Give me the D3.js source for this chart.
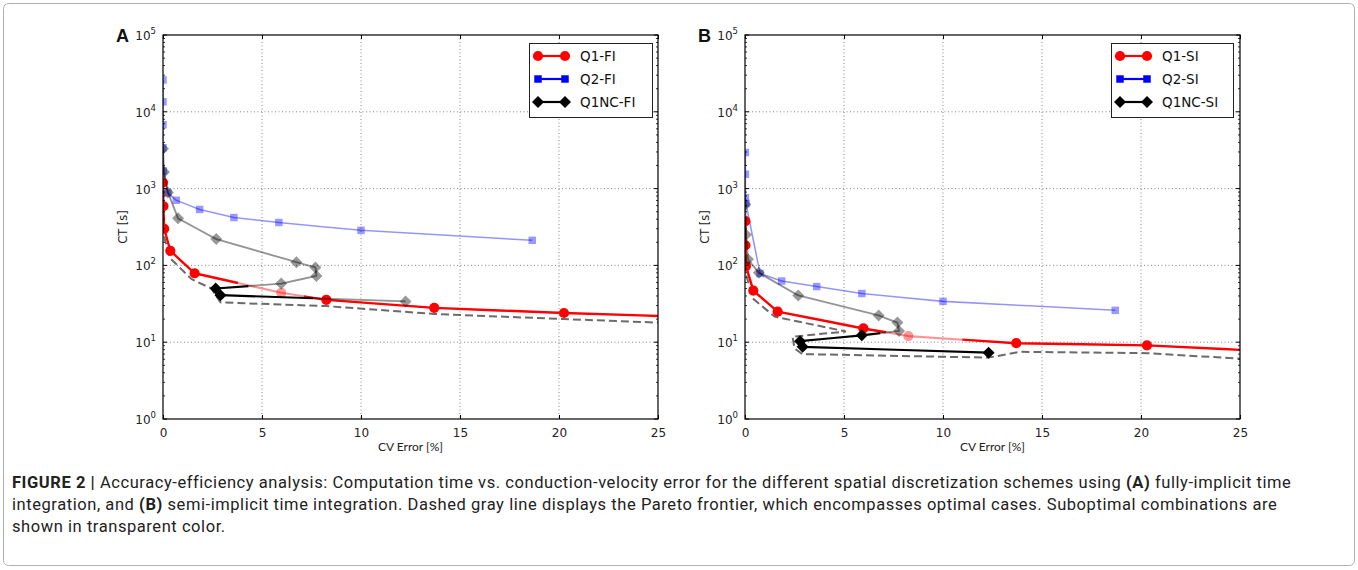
<!DOCTYPE html>
<html><head><meta charset="utf-8">
<script src="https://cdn.jsdelivr.net/npm/d3@7"></script>
<style>body{margin:0;background:#fff} svg{display:block}</style>
</head><body>
<svg id="c" width="1358" height="570"></svg>
<script>
// ---------------- data ----------------
const xTickValues = [0, 5, 10, 15, 20, 25];
const yTickExponents = [0, 1, 2, 3, 4, 5];
const panelLabels = ["A", "B"];
const legendA = ["Q1-FI", "Q2-FI", "Q1NC-FI"];
const legendB = ["Q1-SI", "Q2-SI", "Q1NC-SI"];
const xAxisTitle = "CV Error [%]";
const yAxisTitle = "CT [s]";

// Panel A (fully implicit)  - opt: 1 = optimal (solid), 0 = suboptimal (transparent)
const aQ1X   = [0.0, 0.02, 0.06, 0.37, 1.6, 5.97, 8.25, 13.7, 20.25, 28];
const aQ1Y   = [1200, 590, 300, 155, 79, 44, 35.6, 28, 24, 20.8];
const aQ1Opt = [1, 1, 1, 1, 1, 0, 1, 1, 1, 1];
const aQ2X   = [0.0, 0.0, 0.0, 0.0, 0.02, 0.25, 0.67, 1.85, 3.58, 5.85, 10.0, 18.65];
const aQ2Y   = [26000, 13500, 6800, 3400, 1700, 880, 705, 535, 420, 362, 286, 212];
const aQ2Opt = [0, 0, 0, 0, 0, 0, 0, 0, 0, 0, 0, 0];
const aNCX   = [0.0, 0.05, 0.25, 0.76, 2.69, 6.74, 7.7, 7.75, 5.97, 2.66, 2.9, 12.25];
const aNCY   = [3300, 1650, 890, 410, 220, 110, 94, 73, 58, 50, 41, 34];
const aNCOpt = [0, 0, 0, 0, 0, 0, 0, 0, 0, 1, 1, 0];
const aParetoX = [0.0, 0.0, 0.03, 0.35, 1.45, 2.45, 2.9, 8.25, 13.7, 20.25, 25];
const aParetoY = [1000, 490, 250, 125, 66, 50, 33, 29.5, 23.3, 20, 18];

// Panel B (semi implicit)
const bQ1X   = [0.02, 0.02, 0.05, 0.42, 1.65, 5.98, 8.25, 13.7, 20.3, 28];
const bQ1Y   = [377, 183, 98, 47, 25, 15.1, 12, 9.7, 9.1, 7.3];
const bQ1Opt = [1, 1, 1, 1, 1, 1, 0, 1, 1, 1];
const bQ2X   = [0.02, 0.02, 0.02, 0.05, 0.76, 1.85, 3.62, 5.9, 10.0, 18.7];
const bQ2Y   = [2950, 1540, 760, 640, 78.5, 62.6, 53, 43, 34, 26];
const bQ2Opt = [0, 0, 0, 0, 0, 0, 0, 0, 0, 0];
const bNCX   = [0.02, 0.05, 0.15, 0.7, 2.69, 6.75, 7.7, 7.78, 5.9, 2.78, 2.91, 12.3];
const bNCY   = [620, 250, 120, 80, 40.6, 22.3, 18, 14, 12.3, 10.3, 8.7, 7.3];
const bNCOpt = [0, 0, 0, 0, 0, 0, 0, 0, 1, 1, 1, 1];
const bParetoX = [0.0, 0.0, 0.03, 0.4, 1.5, 5.1, 2.4, 2.5, 2.9, 12.3, 13.9, 20.3, 25];
const bParetoY = [310, 150, 80, 37, 21.5, 13.8, 11.8, 8.3, 7.0, 6.3, 7.5, 7.2, 6.1];

const captionLines = [
  [["FIGURE 2 |", true], [" Accuracy-efficiency analysis: Computation time vs. conduction-velocity error for the different spatial discretization schemes using ", false], ["(A)", true], [" fully-implicit time", false]],
  [["integration, and ", false], ["(B)", true], [" semi-implicit time integration. Dashed gray line displays the Pareto frontier, which encompasses optimal cases. Suboptimal combinations are", false]],
  [["shown in transparent color.", false]]
];

// ---------------- drawing ----------------
const svg = d3.select("#c");
const FONT = "'DejaVu Sans', sans-serif";

svg.append("rect").attr("x", 3.5).attr("y", 3.5).attr("width", 1351).attr("height", 562)
  .attr("rx", 5).attr("fill", "none").attr("stroke", "#b0b0b0").attr("stroke-width", 1);

const panels = [
  {left: 163, right: 658, top: 35, bottom: 419, label: panelLabels[0], legend: legendA,
   q1: [aQ1X, aQ1Y, aQ1Opt], q2: [aQ2X, aQ2Y, aQ2Opt], nc: [aNCX, aNCY, aNCOpt], par: [aParetoX, aParetoY],
   legBox: [529, 43, 123, 74]},
  {left: 745, right: 1240, top: 35, bottom: 419, label: panelLabels[1], legend: legendB,
   q1: [bQ1X, bQ1Y, bQ1Opt], q2: [bQ2X, bQ2Y, bQ2Opt], nc: [bNCX, bNCY, bNCOpt], par: [bParetoX, bParetoY],
   legBox: [1111, 43, 122, 74]}
];

const ALPHA_PT = 0.4, ALPHA_LN = 0.42;

function markerPath(kind) {
  if (kind === "circle") return d3.symbol(d3.symbolCircle, 82)();
  if (kind === "square") return d3.symbol(d3.symbolSquare, 56)();
  return d3.symbol(d3.symbolSquare, 72)();
}
function markerRot(kind) { return kind === "diamond" ? 45 : 0; }

function drawSeries(g, data, x, y, color, lw, kind) {
  const [xs, ys, opt] = data;
  const pts = xs.map((v, i) => ({px: x(v), py: y(ys[i]), o: opt[i]}));
  const halves = [];
  for (let i = 0; i < pts.length - 1; i++) {
    const a = pts[i], b = pts[i + 1];
    const m = {px: (a.px + b.px) / 2, py: (a.py + b.py) / 2};
    halves.push({p: [a, m], o: a.o});
    halves.push({p: [m, b], o: b.o});
  }
  const runs = [];
  halves.forEach(h => {
    const last = runs[runs.length - 1];
    if (last && last.o === h.o) last.pts.push(h.p[1]);
    else runs.push({o: h.o, pts: [h.p[0], h.p[1]]});
  });
  const line = d3.line().x(d => d.px).y(d => d.py);
  g.selectAll(null).data(runs).join("path")
    .attr("d", d => line(d.pts)).attr("fill", "none").attr("stroke", color)
    .attr("stroke-width", d => d.o ? lw : lw * 0.85).attr("stroke-opacity", d => d.o ? 1 : ALPHA_LN)
    .attr("stroke-linejoin", "round");
  g.selectAll(null).data(pts).join("path")
    .attr("d", markerPath(kind))
    .attr("transform", d => `translate(${d.px},${d.py}) rotate(${markerRot(kind)})`)
    .attr("fill", color).attr("fill-opacity", d => d.o ? 1 : ALPHA_PT);
}

panels.forEach((P, pi) => {
  const x = d3.scaleLinear().domain([xTickValues[0], xTickValues[xTickValues.length - 1]]).range([P.left, P.right]);
  const y = d3.scaleLog().domain([Math.pow(10, yTickExponents[0]), Math.pow(10, yTickExponents[yTickExponents.length - 1])]).range([P.bottom, P.top]);
  const g = svg.append("g");
  const clipId = "clip" + pi;
  g.append("clipPath").attr("id", clipId).append("rect")
    .attr("x", P.left).attr("y", P.top).attr("width", P.right - P.left).attr("height", P.bottom - P.top);

  const grid = g.append("g").attr("stroke", "#444").attr("stroke-width", 0.8).attr("stroke-dasharray", "1,2.5").attr("opacity", 0.8);
  grid.selectAll(null).data(xTickValues.slice(1, -1)).join("line")
    .attr("x1", d => x(d)).attr("x2", d => x(d)).attr("y1", P.top).attr("y2", P.bottom);
  grid.selectAll(null).data(yTickExponents.slice(1, -1).map(e => Math.pow(10, e))).join("line")
    .attr("y1", d => y(d)).attr("y2", d => y(d)).attr("x1", P.left).attr("x2", P.right);

  const plot = g.append("g").attr("clip-path", `url(#${clipId})`);
  const par = P.par;
  plot.append("path")
    .attr("d", d3.line().x(d => x(d[0])).y(d => y(d[1]))(par[0].map((v, i) => [v, par[1][i]])))
    .attr("fill", "none").attr("stroke", "#6b6b6b").attr("stroke-width", 2).attr("stroke-dasharray", "8,4");
  drawSeries(plot.append("g"), P.q2, x, y, "#0000ff", 1.8, "square");
  drawSeries(plot.append("g"), P.q1, x, y, "#ff0000", 2.4, "circle");
  drawSeries(plot.append("g"), P.nc, x, y, "#000000", 2.2, "diamond");

  g.append("rect").attr("x", P.left).attr("y", P.top).attr("width", P.right - P.left).attr("height", P.bottom - P.top)
    .attr("fill", "none").attr("stroke", "#000").attr("stroke-width", 1.2);

  const xb = g.append("g").attr("transform", `translate(0,${P.bottom})`)
    .call(d3.axisBottom(x).tickValues(xTickValues).tickSizeInner(-4).tickSizeOuter(0).tickPadding(9).tickFormat(d3.format("d")));
  xb.select(".domain").remove();
  xb.selectAll("text").attr("font-family", FONT).attr("font-size", 12).attr("fill", "#222");
  const xt = g.append("g").attr("transform", `translate(0,${P.top})`)
    .call(d3.axisTop(x).tickValues(xTickValues).tickSizeInner(-4).tickSizeOuter(0).tickFormat(""));
  xt.select(".domain").remove();

  const majors = yTickExponents.map(e => Math.pow(10, e));
  const minors = [];
  yTickExponents.slice(0, -1).forEach(e => { for (let k = 2; k <= 9; k++) minors.push(k * Math.pow(10, e)); });
  [[P.left, 1], [P.right, -1]].forEach(([xx, dir]) => {
    g.append("g").selectAll(null).data(majors).join("line")
      .attr("x1", xx).attr("x2", xx + dir * 4).attr("y1", d => y(d)).attr("y2", d => y(d)).attr("stroke", "#000");
    g.append("g").selectAll(null).data(minors).join("line")
      .attr("x1", xx).attr("x2", xx + dir * 2).attr("y1", d => y(d)).attr("y2", d => y(d)).attr("stroke", "#000").attr("stroke-width", 0.8);
  });
  const yl = g.append("g").attr("font-family", FONT).attr("fill", "#222");
  yTickExponents.forEach(e => {
    const t = yl.append("text").attr("x", P.left - 7).attr("y", y(Math.pow(10, e)) + 5)
      .attr("text-anchor", "end").attr("font-size", 12);
    t.append("tspan").text("10");
    t.append("tspan").attr("font-size", 8.5).attr("dy", -6).text(String(e));
  });

  g.append("text").attr("x", (P.left + P.right) / 2).attr("y", P.bottom + 32).attr("text-anchor", "middle")
    .attr("font-family", "Lato, 'Open Sans', sans-serif").attr("font-size", 12).attr("fill", "#222").text(xAxisTitle);
  g.append("text").attr("transform", `translate(${P.left - 36},${(P.top + P.bottom) / 2}) rotate(-90)`)
    .attr("text-anchor", "middle").attr("font-family", FONT).attr("font-size", 11.5).attr("fill", "#222").text(yAxisTitle);

  g.append("text").attr("x", P.left - 47).attr("y", P.top + 7).attr("font-family", "'Liberation Sans', Arial, sans-serif")
    .attr("font-weight", "bold").attr("font-size", 18).attr("fill", "#111").text(P.label);

  const [lx, ly, lw, lh] = P.legBox;
  const lg = g.append("g");
  lg.append("rect").attr("x", lx + 0.5).attr("y", ly + 0.5).attr("width", lw).attr("height", lh)
    .attr("fill", "#fff").attr("stroke", "#222").attr("stroke-width", 1);
  const kinds = [["#ff0000", "circle"], ["#0000ff", "square"], ["#000000", "diamond"]];
  P.legend.forEach((name, i) => {
    const yy = ly + 13 + i * 23;
    const [c, k] = kinds[i];
    lg.append("line").attr("x1", lx + 9).attr("x2", lx + 36).attr("y1", yy).attr("y2", yy).attr("stroke", c).attr("stroke-width", 2.2);
    [lx + 9, lx + 36].forEach(mx => lg.append("path").attr("d", markerPath(k))
      .attr("transform", `translate(${mx},${yy}) rotate(${markerRot(k)})`).attr("fill", c));
    lg.append("text").attr("x", lx + 51).attr("y", yy + 5).attr("font-family", FONT).attr("font-size", 13.5).attr("fill", "#111").text(name);
  });
});

// caption
const cap = svg.append("g").attr("font-family", "Roboto, 'Liberation Sans', sans-serif").attr("fill", "#222");
const capStartX = 12, capBase = [488, 510, 532], capFs = 16.5;
const capTexts = captionLines.map((parts, i) => {
  const t = cap.append("text").attr("x", capStartX).attr("y", capBase[i]).attr("font-size", capFs);
  parts.forEach(([s, b]) => t.append("tspan").attr("font-weight", b ? "bold" : "normal").text(s));
  return t;
});
const line1 = captionLines[0].map(p => p[0]).join("");
const w0 = capTexts[0].node().getComputedTextLength();
const ls = (1278 - w0) / line1.length;
capTexts.forEach(t => t.attr("letter-spacing", ls.toFixed(3)));
</script>
</body></html>
